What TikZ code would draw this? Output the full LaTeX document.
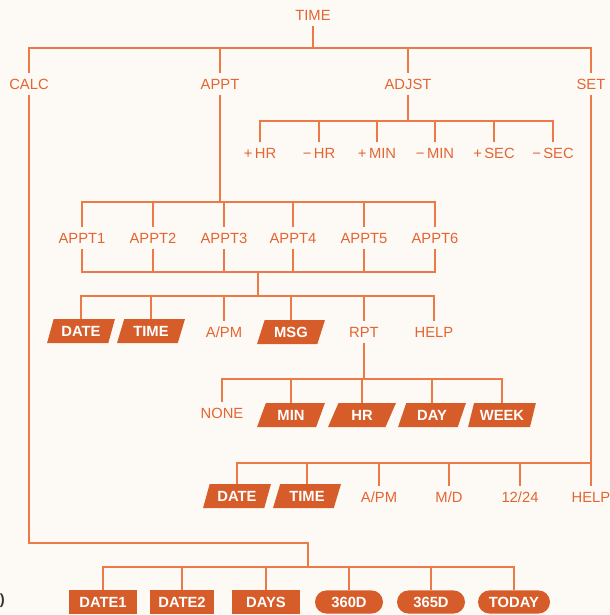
\documentclass[tikz,border=0pt]{standalone}
\usepackage{fontspec}
\setmainfont{Liberation Sans}
\usepackage{tikz}
\usetikzlibrary{shapes.geometric}
\definecolor{lineorange}{RGB}{236, 122, 70}
\definecolor{textorange}{RGB}{228, 100, 50}
\definecolor{keyorange}{RGB}{214, 92, 42}
\definecolor{paper}{RGB}{253, 250, 245}
\newcommand{\lblfont}{\fontsize{10.5}{12}\selectfont}
\newcommand{\keyfont}{\fontsize{10.5}{12}\selectfont\bfseries}

\begin{document}
\begin{tikzpicture}[x=0.25mm, y=-0.25mm,
    lbl/.style={text=textorange, font=\lblfont, inner sep=1.3mm},
    keypar/.style={trapezium, trapezium left angle=65, trapezium right angle=115,
        trapezium stretches=true, fill=keyorange, text=white, font=\keyfont,
        minimum width=17mm, minimum height=6mm, inner sep=0pt},
    keyrect/.style={rectangle, fill=keyorange, text=white, font=\keyfont,
        minimum width=17mm, minimum height=5.8mm, inner sep=0pt},
    keyround/.style={keyrect, rounded corners=2.9mm},
    wire/.style={draw=lineorange, line width=0.9pt}]
    \fill[paper] (0,0) rectangle (610,615);
    \useasboundingbox (0,0) rectangle (610,615);

    % top level
    \node[lbl] (time) at (313,15) {TIME};
    \node[lbl] (calc) at (29,84) {CALC};
    \node[lbl] (appt) at (220,84) {APPT};
    \node[lbl] (adjst) at (408,84) {ADJST};
    \node[lbl] (set) at (591,84) {SET};
    \coordinate (topbar) at (313,48);
    \draw[wire] (time) -- (topbar);
    \draw[wire] (topbar) -| (calc);
    \draw[wire] (topbar) -| (appt);
    \draw[wire] (topbar) -| (adjst);
    \draw[wire] (topbar) -| (set);

    % adjust
    \node[lbl] (phr) at (260,153) {+\,HR};
    \node[lbl] (mhr) at (319,153) {−\,HR};
    \node[lbl] (pmin) at (377,153) {+\,MIN};
    \node[lbl] (mmin) at (435,153) {−\,MIN};
    \node[lbl] (psec) at (494,153) {+\,SEC};
    \node[lbl] (msec) at (553,153) {−\,SEC};
    \coordinate (adjbar) at (408,121);
    \draw[wire] (adjst) -- (adjbar);
    \draw[wire] (adjbar) -| (phr);
    \draw[wire] (adjbar) -| (mhr);
    \draw[wire] (adjbar) -| (pmin);
    \draw[wire] (adjbar) -| (mmin);
    \draw[wire] (adjbar) -| (psec);
    \draw[wire] (adjbar) -| (msec);

    % appointments
    \node[lbl] (appt1) at (82,238) {APPT1};
    \node[lbl] (appt2) at (153,238) {APPT2};
    \node[lbl] (appt3) at (224,238) {APPT3};
    \node[lbl] (appt4) at (293,238) {APPT4};
    \node[lbl] (appt5) at (364,238) {APPT5};
    \node[lbl] (appt6) at (435,238) {APPT6};
    \coordinate (apptbar) at (220,202);
    \coordinate (apptjoin) at (258,272);
    \coordinate (optbar) at (258,296);
    \draw[wire] (appt) -- (apptbar);
    \draw[wire] (apptbar) -| (appt1);
    \draw[wire] (apptbar) -| (appt2);
    \draw[wire] (apptbar) -| (appt3);
    \draw[wire] (apptbar) -| (appt4);
    \draw[wire] (apptbar) -| (appt5);
    \draw[wire] (apptbar) -| (appt6);
    \draw[wire] (appt1) |- (apptjoin);
    \draw[wire] (appt2) |- (apptjoin);
    \draw[wire] (appt3) |- (apptjoin);
    \draw[wire] (appt4) |- (apptjoin);
    \draw[wire] (appt5) |- (apptjoin);
    \draw[wire] (appt6) |- (apptjoin);
    \draw[wire] (apptjoin) -- (optbar);

    % appointment fields
    \node[keypar] (adate) at (81,331) {DATE};
    \node[keypar] (atime) at (151,331) {TIME};
    \node[lbl] (apm) at (224,332) {A/PM};
    \node[keypar] (amsg) at (291,332) {MSG};
    \node[lbl] (rpt) at (364,332) {RPT};
    \node[lbl] (ahelp) at (434,332) {HELP};
    \draw[wire] (optbar) -| (adate);
    \draw[wire] (optbar) -| (atime);
    \draw[wire] (optbar) -| (apm);
    \draw[wire] (optbar) -| (amsg);
    \draw[wire] (optbar) -| (rpt);
    \draw[wire] (optbar) -| (ahelp);

    % repeat
    \node[lbl] (none) at (222,413) {NONE};
    \node[keypar] (rmin) at (291,415) {MIN};
    \node[keypar] (rhr) at (362,415) {HR};
    \node[keypar] (rday) at (432,415) {DAY};
    \node[keypar] (rweek) at (502,415) {WEEK};
    \coordinate (rptbar) at (364,379);
    \draw[wire] (rpt) -- (rptbar);
    \draw[wire] (rptbar) -| (none);
    \draw[wire] (rptbar) -| (rmin);
    \draw[wire] (rptbar) -| (rhr);
    \draw[wire] (rptbar) -| (rday);
    \draw[wire] (rptbar) -| (rweek);

    % set
    \node[keypar] (sdate) at (237,496) {DATE};
    \node[keypar] (stime) at (307,496) {TIME};
    \node[lbl] (spm) at (379,497) {A/PM};
    \node[lbl] (smd) at (449,497) {M/D};
    \node[lbl] (s1224) at (520,497) {12/24};
    \node[lbl] (shelp) at (591,497) {HELP};
    \coordinate (setbar) at (591,463);
    \draw[wire] (set) -- (setbar);
    \draw[wire] (setbar) -| (sdate);
    \draw[wire] (setbar) -| (stime);
    \draw[wire] (setbar) -| (spm);
    \draw[wire] (setbar) -| (smd);
    \draw[wire] (setbar) -| (s1224);
    \draw[wire] (setbar) -- (shelp);

    % calc
    \node[keyrect] (date1) at (103,602) {DATE1};
    \node[keyrect, minimum width=16mm] (date2) at (182,602) {DATE2};
    \node[keyrect] (days) at (266,602) {DAYS};
    \node[keyround] (d360) at (349,602) {360D};
    \node[keyround] (d365) at (431,602) {365D};
    \node[keyround, minimum width=18mm] (today) at (514,602) {TODAY};
    \coordinate (calcturn) at (29,543);
    \coordinate (calcbar) at (308,567);
    \draw[wire] (calc) -- (calcturn) -| (calcbar);
    \draw[wire] (calcbar) -| (date1);
    \draw[wire] (calcbar) -| (date2);
    \draw[wire] (calcbar) -| (days);
    \draw[wire] (calcbar) -| (d360);
    \draw[wire] (calcbar) -| (d365);
    \draw[wire] (calcbar) -| (today);

    \node[anchor=east, font=\keyfont, text=black!80, inner sep=0pt] (paren) at (5,601) {)};
\end{tikzpicture}
\end{document}
